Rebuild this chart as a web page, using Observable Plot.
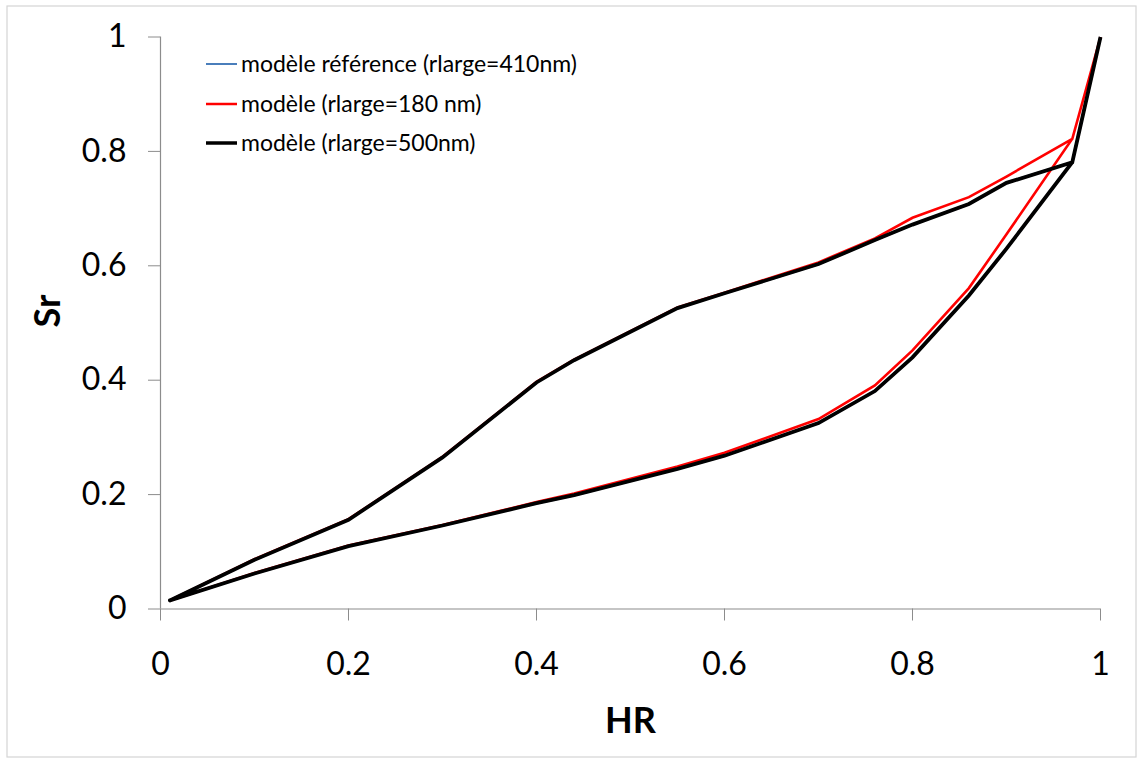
<!DOCTYPE html>
<html>
<head>
<meta charset="utf-8">
<script src="https://cdn.jsdelivr.net/npm/d3@7"></script>
<script src="https://cdn.jsdelivr.net/npm/@observablehq/plot@0.6"></script>
<style>
  html, body { margin: 0; padding: 0; background: #fff; }
  #chart { width: 1139px; height: 758px; }
</style>
</head>
<body>
<div id="chart"></div>
<script>
// HR values: adsorption branch (increasing) then desorption branch (decreasing)
const hr = [0.01, 0.1, 0.2, 0.3, 0.4, 0.44, 0.55, 0.6, 0.7, 0.76, 0.8, 0.86, 0.9, 0.97, 1.0,
            0.97, 0.9, 0.86, 0.8, 0.76, 0.7, 0.6, 0.55, 0.44, 0.4, 0.3, 0.2, 0.1, 0.01];

const srRef410 = [0.015, 0.062, 0.110, 0.146, 0.185, 0.199, 0.245, 0.268, 0.325, 0.381, 0.440, 0.548, 0.630, 0.781, 1.0,
                  0.781, 0.745, 0.708, 0.672, 0.645, 0.603, 0.552, 0.526, 0.435, 0.396, 0.265, 0.156, 0.086, 0.015];
const sr180 = [0.015, 0.063, 0.111, 0.147, 0.187, 0.202, 0.249, 0.273, 0.332, 0.391, 0.452, 0.561, 0.655, 0.822, 1.0,
               0.822, 0.756, 0.720, 0.684, 0.648, 0.606, 0.553, 0.527, 0.436, 0.397, 0.266, 0.157, 0.087, 0.015];
const sr500 = [0.015, 0.062, 0.110, 0.146, 0.185, 0.199, 0.245, 0.268, 0.325, 0.381, 0.440, 0.548, 0.630, 0.781, 1.0,
               0.781, 0.745, 0.708, 0.672, 0.645, 0.603, 0.552, 0.526, 0.435, 0.396, 0.265, 0.156, 0.086, 0.015];

const seriesNames = ["modèle référence (rlarge=410nm)", "modèle (rlarge=180 nm)", "modèle (rlarge=500nm)"];
const seriesColors = ["#4a7ebb", "#ff0000", "#000000"];
const seriesWidths = [2.5, 2.6, 3.8];
const legendWidths = [2, 2.5, 3.5];

const xTicks = [0, 0.2, 0.4, 0.6, 0.8, 1];
const yTicks = [0, 0.2, 0.4, 0.6, 0.8, 1];
const xLabel = "HR";
const yLabel = "Sr";

const srAll = [srRef410, sr180, sr500];
const tables = srAll.map((sr, s) => hr.map((x, i) => ({x, y: sr[i], s})));

const fmt = d => d === 0 ? "0" : d === 1 ? "1" : d3.format(".1f")(d);
const axisGray = "#8c8c8c";
const font = "Lato, 'Open Sans', sans-serif";

const plot = Plot.plot({
  width: 1139,
  height: 758,
  marginLeft: 160,
  marginRight: 39,
  marginTop: 36.5,
  marginBottom: 149.5,
  style: {fontFamily: font, background: "transparent", color: "#000"},
  x: {domain: [0, 1]},
  y: {domain: [0, 1]},
  marks: [
    Plot.ruleY([0], {stroke: axisGray, strokeWidth: 1.2}),
    Plot.ruleX([0], {stroke: axisGray, strokeWidth: 1.2}),
    Plot.axisX({ticks: xTicks, tickFormat: fmt, tickSize: 12, tickPadding: 31, stroke: axisGray, fill: "#000", fontSize: 32, label: null}),
    Plot.axisY({ticks: yTicks, tickFormat: fmt, tickSize: 12, tickPadding: 22, stroke: axisGray, fill: "#000", fontSize: 32, label: null}),
    ...tables.map((t, s) => Plot.line(t, {x: "x", y: "y", stroke: seriesColors[s], strokeWidth: seriesWidths[s], strokeLinejoin: "miter", strokeMiterlimit: 4})),
    Plot.text([xLabel], {frameAnchor: "bottom", dy: 112, fontSize: 36, fontWeight: "bold", fill: "#000", lineAnchor: "middle"}),
    Plot.text([yLabel], {frameAnchor: "left", dx: -112, dy: 4.5, rotate: -90, fontSize: 36, fontWeight: "bold", fill: "#000", lineAnchor: "middle"})
  ]
});

// outer border
d3.select(plot).insert("rect", ":first-child")
  .attr("x", 7).attr("y", 6).attr("width", 1129).attr("height", 751)
  .attr("fill", "#fff").attr("stroke", "#d4d4d4").attr("stroke-width", 1.2);

// legend
const lg = d3.select(plot).append("g")
  .attr("font-family", font).attr("font-size", 23).attr("text-anchor", "start");
const rowY = [64, 104, 143];
seriesNames.forEach((name, i) => {
  lg.append("line").attr("x1", 206).attr("x2", 237).attr("y1", rowY[i]).attr("y2", rowY[i])
    .attr("stroke", seriesColors[i]).attr("stroke-width", legendWidths[i]);
  lg.append("text").attr("x", 241).attr("y", rowY[i]).attr("dy", "0.35em")
    .attr("text-anchor", "start").attr("fill", "#000").text(name);
});

document.getElementById("chart").appendChild(plot);
</script>
</body>
</html>
